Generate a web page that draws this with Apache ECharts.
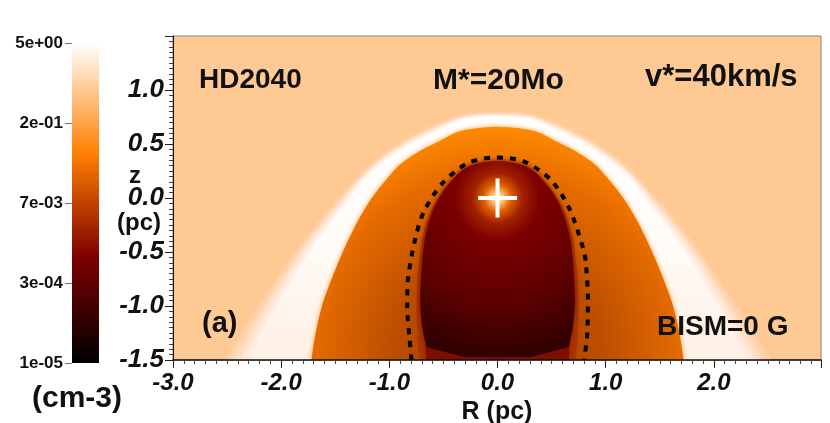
<!DOCTYPE html>
<html>
<head>
<meta charset="utf-8">
<style>html,body{margin:0;padding:0;background:#fff}#main{width:830px;height:423px}</style>
<script src="https://cdn.jsdelivr.net/npm/echarts@6/dist/echarts.min.js"></script>
</head>
<body>
<div id="main"></div>
<script>
// contours, left half, from apex (R=0) down to z=-1.5
var bowOuterR = [0, -0.3, -0.62, -0.87, -1.083, -1.27, -1.454, -1.685, -1.9, -2.1, -2.3, -2.52];
var bowOuterZ = [0.775, 0.76, 0.65, 0.516, 0.376, 0.2, 0, -0.27, -0.55, -0.85, -1.16, -1.5];
var bowAR = [0, -0.3, -0.6, -0.85, -1.06, -1.26, -1.433, -1.657, -1.86, -2.05, -2.243, -2.447];
var bowAZ = [0.77, 0.75, 0.64, 0.51, 0.37, 0.19, -0.01, -0.28, -0.553, -0.847, -1.157, -1.5];
var bowBR = [0, -0.3, -0.577, -0.827, -1.04, -1.25, -1.41, -1.628, -1.82, -2.0, -2.187, -2.373];
var bowBZ = [0.765, 0.745, 0.63, 0.505, 0.365, 0.18, -0.02, -0.29, -0.557, -0.843, -1.153, -1.5];
var bowWhiteR = [0, -0.3, -0.555, -0.805, -1.02, -1.24, -1.39, -1.6, -1.78, -1.95, -2.13, -2.3];
var bowWhiteZ = [0.755, 0.735, 0.62, 0.5, 0.36, 0.17, -0.03, -0.3, -0.56, -0.84, -1.15, -1.5];
var shellR = [0, -0.2, -0.37, -0.53, -0.71, -0.9, -1.02, -1.176, -1.3, -1.43, -1.53, -1.62, -1.685, -1.72];
var shellZ = [0.66, 0.645, 0.61, 0.53, 0.44, 0.31, 0.18, -0.02, -0.23, -0.5, -0.74, -0.99, -1.27, -1.5];
var haloR = [0, -0.28, -0.47, -0.61, -0.69, -0.72, -0.74, -0.75, -0.74, -0.72];
var haloZ = [0.34, 0.285, 0.11, -0.105, -0.35, -0.57, -0.72, -1.0, -1.3, -1.5];
var bubbleR = [0, -0.28, -0.465, -0.59, -0.665, -0.695, -0.71, -0.715, -0.695, -0.66, -0.65];
var bubbleZ = [0.34, 0.285, 0.11, -0.105, -0.35, -0.57, -0.79, -0.95, -1.2, -1.38, -1.5];
// red wedge under the cavity
var wedgeR = [-0.66, -0.3, 0.3, 0.66];
var wedgeZ = [-1.38, -1.475, -1.475, -1.38];
// dashed line, whole curve
var dashR = [-0.795, -0.815, -0.835, -0.825, -0.76, -0.68, -0.51, -0.28, -0.02, 0.24, 0.49, 0.66, 0.79, 0.815, 0.835, 0.83, 0.8];
var dashZ = [-1.5, -1.285, -1.0, -0.73, -0.375, -0.125, 0.135, 0.32, 0.375, 0.34, 0.17, -0.09, -0.46, -0.59, -0.94, -1.25, -1.5];
var starPos = [[0, 0]];
var colorTicks = ['1e-05', '3e-04', '7e-03', '2e-01', '5e+00'];
var colorValue = [4];

// the figure is symmetric about R=0
function mirror(rs, zs) {
  var pts = [];
  for (var i = rs.length - 1; i > 0; i--) pts.push([rs[i], zs[i]]);
  for (var j = 0; j < rs.length; j++) pts.push([-rs[j], zs[j]]);
  return pts;
}
function zip(rs, zs) {
  return rs.map(function (r, i) { return [r, zs[i]]; });
}
function vgrad(stops) {
  return { type: 'linear', x: 0, y: 0, x2: 0, y2: 1, colorStops: stops };
}
function rgrad(x, y, r, stops) {
  return { type: 'radial', x: x, y: y, r: r, colorStops: stops };
}
function layer(pts, fill, blur, shadow) {
  return {
    type: 'line', xAxisIndex: 0, yAxisIndex: 0, data: pts, smooth: 0.3,
    symbol: 'none', lineStyle: { width: 0 }, silent: true,
    areaStyle: { color: fill, opacity: 1, origin: 'start', shadowBlur: blur || 0, shadowColor: shadow || 'transparent' }
  };
}

var font = '"Liberation Sans", Arial, sans-serif';
var myChart = echarts.init(document.getElementById('main'));
var option = {
  animation: false,
  backgroundColor: '#fff',
  grid: [
    { left: 173, width: 648, top: 36, height: 324, outerBoundsMode: 'none', show: true, backgroundColor: '#ffc994', borderColor: '#8a8378', borderWidth: 1 },
    { left: 72, width: 27, top: 43, height: 320, outerBoundsMode: 'none' }
  ],
  xAxis: [{
    type: 'value', gridIndex: 0, z: 20, min: -3, max: 2.99, interval: 1,
    name: 'R (pc)', nameLocation: 'middle', nameGap: 40,
    nameTextStyle: { fontFamily: font, fontWeight: 'bold', fontSize: 25, color: '#111' },
    axisLine: { show: true, onZero: false, lineStyle: { color: '#111', width: 1.5 } },
    axisTick: { show: true, length: 8, lineStyle: { color: '#222' } },
    minorTick: { show: true, splitNumber: 10, length: 4, lineStyle: { color: '#444' } },
    splitLine: { show: false },
    axisLabel: {
      showMaxLabel: false, margin: 11, fontFamily: font, fontStyle: 'italic', fontWeight: 'bold', fontSize: 24, color: '#111',
      formatter: function (v) { return v.toFixed(1); }
    }
  }, {
    type: 'category', gridIndex: 1, data: [''], show: false
  }],
  yAxis: [{
    type: 'value', gridIndex: 0, z: 20, min: -1.5, max: 1.5, interval: 0.5,
    axisLine: { show: true, onZero: false, lineStyle: { color: '#111', width: 1 } },
    axisTick: { show: true, length: 8, lineStyle: { color: '#222' } },
    minorTick: { show: true, splitNumber: 10, length: 4, lineStyle: { color: '#444' } },
    splitLine: { show: false },
    axisLabel: {
      showMaxLabel: false, margin: 9, fontFamily: font, fontStyle: 'italic', fontWeight: 'bold', fontSize: 26, color: '#111',
      formatter: function (v) { return v.toFixed(1); }
    }
  }, {
    type: 'value', gridIndex: 1, min: 0, max: 4, interval: 1,
    axisLine: { show: false },
    axisTick: { show: true, length: 7, lineStyle: { color: '#777' } },
    splitLine: { show: false },
    axisLabel: {
      margin: 9, fontFamily: font, fontWeight: 'bold', fontSize: 17, color: '#111',
      formatter: function (v) { return colorTicks[v]; }
    }
  }],
  series: [
    layer(mirror(bowOuterR, bowOuterZ), '#ffd2aa', 4, '#ffd2aa'),
    layer(mirror(bowAR, bowAZ), vgrad([{ offset: 0, color: '#ffe8d6' }, { offset: 1, color: '#ffdcc0' }]), 4, '#ffdcc0'),
    layer(mirror(bowBR, bowBZ), vgrad([{ offset: 0, color: '#fff4ec' }, { offset: 1, color: '#ffe8d8' }]), 4, '#ffe8d8'),
    layer(mirror(bowWhiteR, bowWhiteZ), vgrad([
      { offset: 0, color: '#ffffff' }, { offset: 0.5, color: '#fffbf8' }, { offset: 1, color: '#fff0e4' }
    ]), 5, '#fff0e4'),
    layer(mirror(shellR, shellZ), rgrad(0.5, 1, 1, [
      { offset: 0, color: '#9c3a00' }, { offset: 0.45, color: '#bc4e00' },
      { offset: 0.8, color: '#e66c00' }, { offset: 1, color: '#ff8a00' }
    ]), 5, '#ffa040'),
    layer(mirror(haloR, haloZ), '#a83400', 7, '#b84400'),
    layer(mirror(bubbleR, bubbleZ), rgrad(0.5, 0.185, 1.25, [
      { offset: 0, color: '#ffffff' }, { offset: 0.03, color: '#ffc070' }, { offset: 0.07, color: '#e06000' },
      { offset: 0.13, color: '#a02000' }, { offset: 0.22, color: '#7c0000' },
      { offset: 0.55, color: '#5c0000' }, { offset: 0.8, color: '#340000' }, { offset: 1, color: '#280000' }
    ]), 4, '#801000'),
    {
      type: 'line', xAxisIndex: 0, yAxisIndex: 0, data: zip(wedgeR, wedgeZ), symbol: 'none', silent: true,
      lineStyle: { width: 0 }, areaStyle: { color: '#7e0e00', opacity: 1, origin: 'start' }
    },
    {
      type: 'line', z: 5, xAxisIndex: 0, yAxisIndex: 0, data: zip(dashR, dashZ), smooth: 0.3, symbol: 'none', silent: true,
      lineStyle: { color: '#000', width: 4, type: [6, 7] }
    },
    {
      type: 'scatter', z: 10, xAxisIndex: 0, yAxisIndex: 0, data: starPos, silent: true, symbolSize: 39,
      symbol: 'path://M17.5 0H21.5V17.5H39V21.5H21.5V39H17.5V21.5H0V17.5H17.5Z',
      itemStyle: { color: '#fff', opacity: 1 }
    },
    {
      type: 'bar', xAxisIndex: 1, yAxisIndex: 1, data: colorValue, barWidth: '100%', silent: true,
      itemStyle: {
        color: vgrad([
          { offset: 0, color: '#ffffff' }, { offset: 0.345, color: '#ff8000' },
          { offset: 0.667, color: '#7f0000' }, { offset: 1, color: '#000000' }
        ])
      }
    }
  ],
  graphic: [
    { type: 'text', left: 199, top: 66, z: 50, style: { text: 'HD2040', font: 'bold 28px ' + font, fill: '#111' } },
    { type: 'text', left: 433, top: 66, z: 50, style: { text: 'M*=20Mo', font: 'bold 30px ' + font, fill: '#111' } },
    { type: 'text', left: 645, top: 62, z: 50, style: { text: 'v*=40km/s', font: 'bold 31px ' + font, fill: '#111' } },
    { type: 'text', left: 202, top: 309, z: 50, style: { text: '(a)', font: 'bold 29px ' + font, fill: '#111' } },
    { type: 'text', left: 657, top: 313, z: 50, style: { text: 'BISM=0 G', font: 'bold 28px ' + font, fill: '#111' } },
    { type: 'text', left: 129, top: 164, z: 50, style: { text: 'z', font: 'bold 24px ' + font, fill: '#111' } },
    { type: 'text', left: 117, top: 211, z: 50, style: { text: '(pc)', font: 'bold 24px ' + font, fill: '#111' } },
    { type: 'text', left: 32, top: 384, z: 50, style: { text: '(cm-3)', font: 'bold 30px ' + font, fill: '#111' } }
  ]
};
myChart.setOption(option);
</script>
</body>
</html>
